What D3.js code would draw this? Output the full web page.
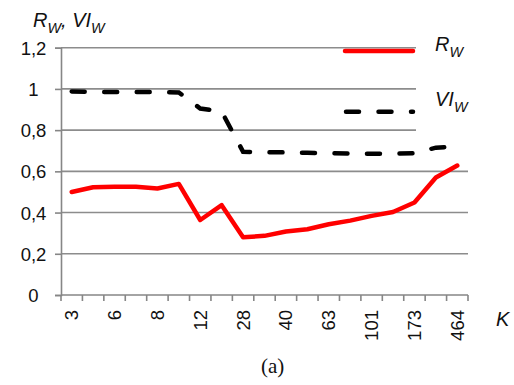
<!DOCTYPE html>
<html>
<head>
<meta charset="utf-8">
<script src="https://cdn.jsdelivr.net/npm/d3@7"></script>
<style>
  html, body { margin: 0; padding: 0; background: #fff; }
  svg { display: block; }
</style>
</head>
<body>
<svg id="chart" width="514" height="385"></svg>
<script>
// Number of clusters K (every other one is labelled on the axis)
const categories = ["3", "4", "6", "7", "8", "10", "12", "20", "28", "34", "40", "50", "63", "80", "101", "136", "173", "250", "464"];
const rwValues = [0.50, 0.523, 0.525, 0.525, 0.517, 0.539, 0.364, 0.436, 0.280, 0.287, 0.308, 0.319, 0.343, 0.361, 0.384, 0.403, 0.449, 0.570, 0.628];
const viwValues = [0.988, 0.985, 0.985, 0.985, 0.985, 0.983, 0.905, 0.890, 0.695, 0.693, 0.692, 0.690, 0.688, 0.686, 0.685, 0.686, 0.688, 0.715, 0.720];
const yTicks = [0, 0.2, 0.4, 0.6, 0.8, 1, 1.2];

const svg = d3.select("#chart");
const plotLeft = 61, plotRight = 468, plotTop = 47.7, plotBottom = 295;

const x = d3.scaleBand().domain(categories).range([plotLeft, plotRight]).padding(0);
const y = d3.scaleLinear().domain([0, 1.2]).range([plotBottom, plotTop]);
const cx = d => x(d) + x.bandwidth() / 2;
const fmt = v => String(v).replace(".", ",");
const sans = "Liberation Sans, Arial, sans-serif";

// Horizontal gridlines
svg.append("g").selectAll("line").data(yTicks.filter(v => v > 0)).join("line")
  .attr("x1", plotLeft).attr("x2", plotRight)
  .attr("y1", d => y(d)).attr("y2", d => y(d))
  .attr("stroke", "#8c8c8c").attr("stroke-width", 1.6);

// Y axis
const yAxis = svg.append("g").attr("transform", `translate(${plotLeft},0)`)
  .call(d3.axisLeft(y).tickValues(yTicks).tickSize(6).tickFormat(fmt));
yAxis.select(".domain").attr("stroke", "#868686").attr("stroke-width", 1.6);
yAxis.selectAll(".tick line").attr("stroke", "#868686").attr("stroke-width", 1.6);
yAxis.selectAll(".tick text")
  .attr("x", -27.5).attr("text-anchor", "middle").attr("dy", "0.35em")
  .attr("font-family", sans).attr("font-size", 18.5).attr("fill", "#111");

// X axis: ticks between categories, labels on every other category
const xAxis = svg.append("g").attr("transform", `translate(0,${plotBottom})`);
xAxis.append("line").attr("x1", plotLeft).attr("x2", plotRight).attr("y1", 0).attr("y2", 0)
  .attr("stroke", "#868686").attr("stroke-width", 1.6);
xAxis.selectAll("line.tk").data(d3.range(categories.length + 1)).join("line")
  .attr("class", "tk")
  .attr("x1", i => plotLeft + i * x.bandwidth()).attr("x2", i => plotLeft + i * x.bandwidth())
  .attr("y1", 0).attr("y2", 6)
  .attr("stroke", "#868686").attr("stroke-width", 1.6);
xAxis.selectAll("text").data(categories.filter((d, i) => i % 2 === 0)).join("text")
  .attr("transform", d => `translate(${cx(d)},15) rotate(-90)`)
  .attr("text-anchor", "end").attr("dy", "0.35em")
  .attr("font-family", sans).attr("font-size", 18.5).attr("fill", "#111")
  .text(d => d);

// Series lines
const line = vals => d3.line().x((d, i) => cx(categories[i])).y(d => y(d))(vals);
svg.append("path").attr("d", line(rwValues))
  .attr("fill", "none").attr("stroke", "#ff0000").attr("stroke-width", 4.5)
  .attr("stroke-linejoin", "round").attr("stroke-linecap", "round");
svg.append("path").attr("d", line(viwValues))
  .attr("fill", "none").attr("stroke", "#000").attr("stroke-width", 4.5)
  .attr("stroke-linecap", "round").attr("stroke-dasharray", "13,19.5");

// Legend
svg.append("rect").attr("x", 416).attr("y", 36).attr("width", 98).attr("height", 104).attr("fill", "#fff");
svg.append("line").attr("x1", 345).attr("x2", 413).attr("y1", 51).attr("y2", 51)
  .attr("stroke", "#ff0000").attr("stroke-width", 4.5).attr("stroke-linecap", "round");
svg.append("line").attr("x1", 346).attr("x2", 413).attr("y1", 111.7).attr("y2", 111.7)
  .attr("stroke", "#000").attr("stroke-width", 4.5).attr("stroke-linecap", "round")
  .attr("stroke-dasharray", "13,19.5");

// Italic label with subscripts: parts = [[main, sub], ...]
function subLabel(xp, yp, parts, size) {
  const t = svg.append("text").attr("x", xp).attr("y", yp)
    .attr("font-family", sans).attr("font-style", "italic")
    .attr("font-size", size).attr("fill", "#111");
  const shift = size * 0.28;
  parts.forEach(([m, s], i) => {
    t.append("tspan").attr("dy", i === 0 ? 0 : -shift).text(m);
    t.append("tspan").attr("font-size", size * 0.72).attr("dy", shift).text(s);
  });
  return t;
}
subLabel(435, 51, [["R", "W"]], 20);
subLabel(435, 106, [["VI", "W"]], 20);
subLabel(33, 27, [["R", "W"], [", VI", "W"]], 20);

svg.append("text").attr("x", 496).attr("y", 326)
  .attr("font-family", sans).attr("font-style", "italic")
  .attr("font-size", 20).attr("fill", "#111").text("K");
svg.append("text").attr("x", 261).attr("y", 373)
  .attr("font-family", "Liberation Serif, Times New Roman, serif")
  .attr("font-size", 21).attr("fill", "#111").text("(a)");
</script>
</body>
</html>
